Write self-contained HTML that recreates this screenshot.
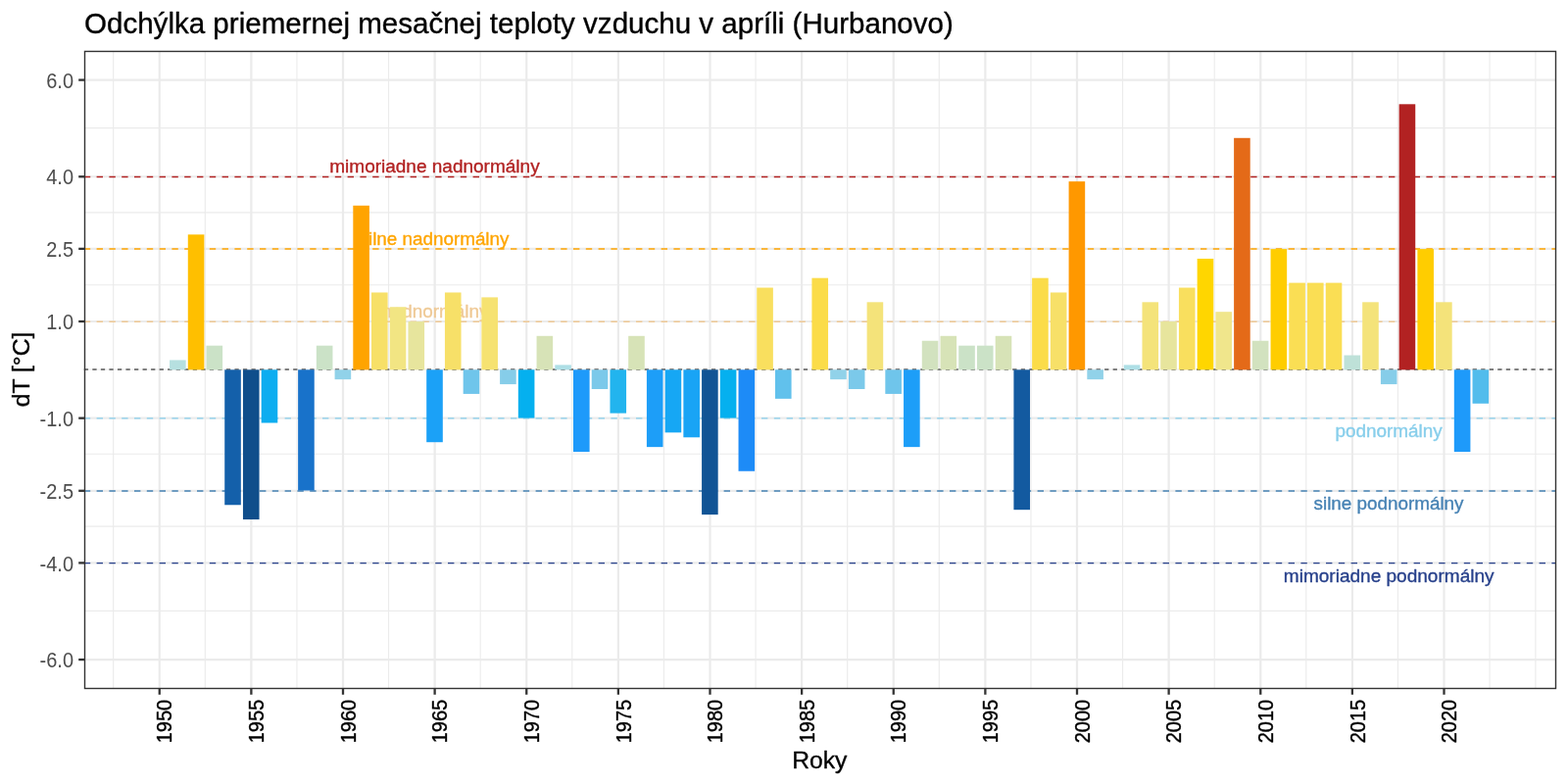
<!DOCTYPE html>
<html lang="sk"><head><meta charset="utf-8"><title>Odchýlka priemernej mesačnej teploty vzduchu v apríli (Hurbanovo)</title>
<style>html,body{margin:0;padding:0;background:#fff;overflow:hidden}svg{display:block}text{font-family:"Liberation Sans", sans-serif;stroke-width:0.35px;stroke-linejoin:round}</style></head><body>
<svg width="1600" height="800" viewBox="0 0 1600 800">
<rect x="0" y="0" width="1600" height="800" fill="#fff"/>
<g stroke="#EBEBEB" fill="none">
<line x1="86.50" x2="1587.50" y1="130.65" y2="130.65" stroke-width="1.1"/>
<line x1="86.50" x2="1587.50" y1="216.87" y2="216.87" stroke-width="1.1"/>
<line x1="86.50" x2="1587.50" y1="290.78" y2="290.78" stroke-width="1.1"/>
<line x1="86.50" x2="1587.50" y1="377.00" y2="377.00" stroke-width="1.1"/>
<line x1="86.50" x2="1587.50" y1="463.22" y2="463.22" stroke-width="1.1"/>
<line x1="86.50" x2="1587.50" y1="537.13" y2="537.13" stroke-width="1.1"/>
<line x1="86.50" x2="1587.50" y1="623.35" y2="623.35" stroke-width="1.1"/>
<line x1="115.69" x2="115.69" y1="52.45" y2="702.50" stroke-width="1.1"/>
<line x1="209.31" x2="209.31" y1="52.45" y2="702.50" stroke-width="1.1"/>
<line x1="302.94" x2="302.94" y1="52.45" y2="702.50" stroke-width="1.1"/>
<line x1="396.56" x2="396.56" y1="52.45" y2="702.50" stroke-width="1.1"/>
<line x1="490.19" x2="490.19" y1="52.45" y2="702.50" stroke-width="1.1"/>
<line x1="583.81" x2="583.81" y1="52.45" y2="702.50" stroke-width="1.1"/>
<line x1="677.44" x2="677.44" y1="52.45" y2="702.50" stroke-width="1.1"/>
<line x1="771.06" x2="771.06" y1="52.45" y2="702.50" stroke-width="1.1"/>
<line x1="864.69" x2="864.69" y1="52.45" y2="702.50" stroke-width="1.1"/>
<line x1="958.31" x2="958.31" y1="52.45" y2="702.50" stroke-width="1.1"/>
<line x1="1051.94" x2="1051.94" y1="52.45" y2="702.50" stroke-width="1.1"/>
<line x1="1145.56" x2="1145.56" y1="52.45" y2="702.50" stroke-width="1.1"/>
<line x1="1239.19" x2="1239.19" y1="52.45" y2="702.50" stroke-width="1.1"/>
<line x1="1332.81" x2="1332.81" y1="52.45" y2="702.50" stroke-width="1.1"/>
<line x1="1426.44" x2="1426.44" y1="52.45" y2="702.50" stroke-width="1.1"/>
<line x1="1520.06" x2="1520.06" y1="52.45" y2="702.50" stroke-width="1.1"/>
<line x1="1566.88" x2="1566.88" y1="52.45" y2="702.50" stroke-width="1.1"/>
<line x1="86.50" x2="1587.50" y1="81.60" y2="81.60" stroke-width="2.2"/>
<line x1="86.50" x2="1587.50" y1="180.27" y2="180.27" stroke-width="2.2"/>
<line x1="86.50" x2="1587.50" y1="253.87" y2="253.87" stroke-width="2.2"/>
<line x1="86.50" x2="1587.50" y1="328.00" y2="328.00" stroke-width="2.2"/>
<line x1="86.50" x2="1587.50" y1="426.67" y2="426.67" stroke-width="2.2"/>
<line x1="86.50" x2="1587.50" y1="500.80" y2="500.80" stroke-width="2.2"/>
<line x1="86.50" x2="1587.50" y1="574.40" y2="574.40" stroke-width="2.2"/>
<line x1="86.50" x2="1587.50" y1="673.07" y2="673.07" stroke-width="2.2"/>
<line x1="162.75" x2="162.75" y1="52.45" y2="702.50" stroke-width="2.2"/>
<line x1="256.38" x2="256.38" y1="52.45" y2="702.50" stroke-width="2.2"/>
<line x1="350.00" x2="350.00" y1="52.45" y2="702.50" stroke-width="2.2"/>
<line x1="443.62" x2="443.62" y1="52.45" y2="702.50" stroke-width="2.2"/>
<line x1="537.25" x2="537.25" y1="52.45" y2="702.50" stroke-width="2.2"/>
<line x1="630.88" x2="630.88" y1="52.45" y2="702.50" stroke-width="2.2"/>
<line x1="724.50" x2="724.50" y1="52.45" y2="702.50" stroke-width="2.2"/>
<line x1="818.12" x2="818.12" y1="52.45" y2="702.50" stroke-width="2.2"/>
<line x1="911.75" x2="911.75" y1="52.45" y2="702.50" stroke-width="2.2"/>
<line x1="1005.38" x2="1005.38" y1="52.45" y2="702.50" stroke-width="2.2"/>
<line x1="1099.00" x2="1099.00" y1="52.45" y2="702.50" stroke-width="2.2"/>
<line x1="1192.62" x2="1192.62" y1="52.45" y2="702.50" stroke-width="2.2"/>
<line x1="1286.25" x2="1286.25" y1="52.45" y2="702.50" stroke-width="2.2"/>
<line x1="1379.88" x2="1379.88" y1="52.45" y2="702.50" stroke-width="2.2"/>
<line x1="1473.50" x2="1473.50" y1="52.45" y2="702.50" stroke-width="2.2"/>
</g>
<line x1="85.80" x2="1587.50" y1="180.47" y2="180.47" stroke="#B22222" stroke-width="1.45" stroke-dasharray="6.4 6.4"/>
<line x1="85.80" x2="1587.50" y1="254.07" y2="254.07" stroke="#FFA500" stroke-width="1.45" stroke-dasharray="6.4 6.4"/>
<line x1="85.80" x2="1587.50" y1="328.20" y2="328.20" stroke="#EFC995" stroke-width="1.45" stroke-dasharray="6.4 6.4"/>
<line x1="85.80" x2="1587.50" y1="426.87" y2="426.87" stroke="#87CEEB" stroke-width="1.45" stroke-dasharray="6.4 6.4"/>
<line x1="85.80" x2="1587.50" y1="501.00" y2="501.00" stroke="#4682B4" stroke-width="1.45" stroke-dasharray="6.4 6.4"/>
<line x1="85.80" x2="1587.50" y1="574.60" y2="574.60" stroke="#27408B" stroke-width="1.45" stroke-dasharray="6.4 6.4"/>
<line x1="85.80" x2="1587.50" y1="377.00" y2="377.00" stroke="#7F7F7F" stroke-width="1.95" stroke-dasharray="4.2677 4.2677"/>
<text x="443.45" y="176.00" font-size="19.00" text-anchor="middle" fill="#B22222" stroke="#B22222" stroke-width="0.55">mimoriadne nadnormálny</text>
<text x="443.00" y="250.00" font-size="18.85" text-anchor="middle" fill="#FFA500" stroke="#FFA500" stroke-width="0.55">silne nadnormálny</text>
<text x="443.80" y="324.00" font-size="18.90" text-anchor="middle" fill="#EFC995" stroke="#EFC995" stroke-width="0.55">nadnormálny</text>
<text x="1417.00" y="446.00" font-size="18.90" text-anchor="middle" fill="#87CEEB" stroke="#87CEEB" stroke-width="0.55">podnormálny</text>
<text x="1417.05" y="520.00" font-size="18.85" text-anchor="middle" fill="#4682B4" stroke="#4682B4" stroke-width="0.55">silne podnormálny</text>
<text x="1417.20" y="594.00" font-size="19.05" text-anchor="middle" fill="#27408B" stroke="#27408B" stroke-width="0.55">mimoriadne podnormálny</text>
<rect x="173.05" y="367.45" width="16.60" height="9.85" fill="#B6E0E0"/>
<rect x="191.78" y="239.34" width="16.60" height="137.96" fill="#FFBF00"/>
<rect x="210.50" y="352.67" width="16.60" height="24.63" fill="#CBE2C7"/>
<rect x="229.23" y="377.30" width="16.60" height="137.96" fill="#1460AA"/>
<rect x="247.95" y="377.30" width="16.60" height="152.74" fill="#104E8B"/>
<rect x="266.68" y="377.30" width="16.60" height="54.20" fill="#0DADF0"/>
<rect x="304.13" y="377.30" width="16.60" height="123.18" fill="#1872CA"/>
<rect x="322.85" y="352.67" width="16.60" height="24.63" fill="#CBE2C7"/>
<rect x="341.58" y="377.30" width="16.60" height="9.85" fill="#91D2E9"/>
<rect x="360.31" y="209.78" width="16.60" height="167.52" fill="#FFA400"/>
<rect x="379.03" y="298.47" width="16.60" height="78.83" fill="#F7E068"/>
<rect x="397.75" y="313.25" width="16.60" height="64.05" fill="#F2E583"/>
<rect x="416.48" y="328.03" width="16.60" height="49.27" fill="#E7E59D"/>
<rect x="435.20" y="377.30" width="16.60" height="73.91" fill="#1BA1F7"/>
<rect x="453.93" y="298.47" width="16.60" height="78.83" fill="#F7E068"/>
<rect x="472.66" y="377.30" width="16.60" height="24.63" fill="#6FC5EB"/>
<rect x="491.38" y="303.39" width="16.60" height="73.91" fill="#F6E271"/>
<rect x="510.11" y="377.30" width="16.60" height="14.78" fill="#86CDE9"/>
<rect x="528.83" y="377.30" width="16.60" height="49.27" fill="#05B0EF"/>
<rect x="547.56" y="342.81" width="16.60" height="34.49" fill="#D7E3B7"/>
<rect x="566.28" y="372.37" width="16.60" height="4.93" fill="#AEDFE6"/>
<rect x="585.00" y="377.30" width="16.60" height="83.76" fill="#1E9AFA"/>
<rect x="603.73" y="377.30" width="16.60" height="19.71" fill="#7BC9EA"/>
<rect x="622.46" y="377.30" width="16.60" height="44.34" fill="#22B4EE"/>
<rect x="641.18" y="342.81" width="16.60" height="34.49" fill="#D7E3B7"/>
<rect x="659.91" y="377.30" width="16.60" height="78.83" fill="#1D9EF8"/>
<rect x="678.63" y="377.30" width="16.60" height="64.05" fill="#16A7F4"/>
<rect x="697.36" y="377.30" width="16.60" height="68.98" fill="#19A4F5"/>
<rect x="716.08" y="377.30" width="16.60" height="147.81" fill="#115495"/>
<rect x="734.81" y="377.30" width="16.60" height="49.27" fill="#05B0EF"/>
<rect x="753.53" y="377.30" width="16.60" height="103.47" fill="#1D8BF7"/>
<rect x="772.26" y="293.54" width="16.60" height="83.76" fill="#F9DF5E"/>
<rect x="790.98" y="377.30" width="16.60" height="29.56" fill="#61C1EC"/>
<rect x="828.43" y="283.69" width="16.60" height="93.61" fill="#FBDC49"/>
<rect x="847.16" y="377.30" width="16.60" height="9.85" fill="#91D2E9"/>
<rect x="865.88" y="377.30" width="16.60" height="19.71" fill="#7BC9EA"/>
<rect x="884.61" y="308.32" width="16.60" height="68.98" fill="#F4E37A"/>
<rect x="903.33" y="377.30" width="16.60" height="24.63" fill="#6FC5EB"/>
<rect x="922.06" y="377.30" width="16.60" height="78.83" fill="#1D9EF8"/>
<rect x="940.78" y="347.74" width="16.60" height="29.56" fill="#D2E2BF"/>
<rect x="959.51" y="342.81" width="16.60" height="34.49" fill="#D7E3B7"/>
<rect x="978.23" y="352.67" width="16.60" height="24.63" fill="#CBE2C7"/>
<rect x="996.96" y="352.67" width="16.60" height="24.63" fill="#CBE2C7"/>
<rect x="1015.68" y="342.81" width="16.60" height="34.49" fill="#D7E3B7"/>
<rect x="1034.41" y="377.30" width="16.60" height="142.88" fill="#135AA0"/>
<rect x="1053.13" y="283.69" width="16.60" height="93.61" fill="#FBDC49"/>
<rect x="1071.86" y="298.47" width="16.60" height="78.83" fill="#F7E068"/>
<rect x="1090.58" y="185.15" width="16.60" height="192.15" fill="#FF9800"/>
<rect x="1109.31" y="377.30" width="16.60" height="9.85" fill="#91D2E9"/>
<rect x="1146.76" y="372.37" width="16.60" height="4.93" fill="#AEDFE6"/>
<rect x="1165.48" y="308.32" width="16.60" height="68.98" fill="#F4E37A"/>
<rect x="1184.21" y="328.03" width="16.60" height="49.27" fill="#E7E59D"/>
<rect x="1202.93" y="293.54" width="16.60" height="83.76" fill="#F9DF5E"/>
<rect x="1221.66" y="263.98" width="16.60" height="113.32" fill="#FFD600"/>
<rect x="1240.38" y="318.18" width="16.60" height="59.12" fill="#F0E68C"/>
<rect x="1259.11" y="140.80" width="16.60" height="236.50" fill="#E46A18"/>
<rect x="1277.83" y="347.74" width="16.60" height="29.56" fill="#D2E2BF"/>
<rect x="1296.56" y="254.12" width="16.60" height="123.18" fill="#FFCD00"/>
<rect x="1315.28" y="288.61" width="16.60" height="88.69" fill="#FADE54"/>
<rect x="1334.01" y="288.61" width="16.60" height="88.69" fill="#FADE54"/>
<rect x="1352.73" y="288.61" width="16.60" height="88.69" fill="#FADE54"/>
<rect x="1371.46" y="362.52" width="16.60" height="14.78" fill="#BEE1D8"/>
<rect x="1390.18" y="308.32" width="16.60" height="68.98" fill="#F4E37A"/>
<rect x="1408.91" y="377.30" width="16.60" height="14.78" fill="#86CDE9"/>
<rect x="1427.63" y="106.31" width="16.60" height="270.99" fill="#B22222"/>
<rect x="1446.36" y="254.12" width="16.60" height="123.18" fill="#FFCD00"/>
<rect x="1465.08" y="308.32" width="16.60" height="68.98" fill="#F4E37A"/>
<rect x="1483.81" y="377.30" width="16.60" height="83.76" fill="#1E9AFA"/>
<rect x="1502.53" y="377.30" width="16.60" height="34.49" fill="#52BCEC"/>
<rect x="86.50" y="52.45" width="1501.00" height="650.05" fill="none" stroke="#333333" stroke-width="1.4"/>
<g stroke="#333333" stroke-width="2.3">
<line x1="80.20" x2="86.50" y1="81.60" y2="81.60"/>
<line x1="80.20" x2="86.50" y1="180.27" y2="180.27"/>
<line x1="80.20" x2="86.50" y1="253.87" y2="253.87"/>
<line x1="80.20" x2="86.50" y1="328.00" y2="328.00"/>
<line x1="80.20" x2="86.50" y1="426.67" y2="426.67"/>
<line x1="80.20" x2="86.50" y1="500.80" y2="500.80"/>
<line x1="80.20" x2="86.50" y1="574.40" y2="574.40"/>
<line x1="80.20" x2="86.50" y1="673.07" y2="673.07"/>
<line x1="162.75" x2="162.75" y1="702.50" y2="708.80"/>
<line x1="256.38" x2="256.38" y1="702.50" y2="708.80"/>
<line x1="350.00" x2="350.00" y1="702.50" y2="708.80"/>
<line x1="443.62" x2="443.62" y1="702.50" y2="708.80"/>
<line x1="537.25" x2="537.25" y1="702.50" y2="708.80"/>
<line x1="630.88" x2="630.88" y1="702.50" y2="708.80"/>
<line x1="724.50" x2="724.50" y1="702.50" y2="708.80"/>
<line x1="818.12" x2="818.12" y1="702.50" y2="708.80"/>
<line x1="911.75" x2="911.75" y1="702.50" y2="708.80"/>
<line x1="1005.38" x2="1005.38" y1="702.50" y2="708.80"/>
<line x1="1099.00" x2="1099.00" y1="702.50" y2="708.80"/>
<line x1="1192.62" x2="1192.62" y1="702.50" y2="708.80"/>
<line x1="1286.25" x2="1286.25" y1="702.50" y2="708.80"/>
<line x1="1379.88" x2="1379.88" y1="702.50" y2="708.80"/>
<line x1="1473.50" x2="1473.50" y1="702.50" y2="708.80"/>
</g>
<g font-size="20" fill="#4D4D4D" text-anchor="end">
<text transform="translate(75.05,89.70) scale(1,1.06)">6.0</text>
<text transform="translate(75.05,188.37) scale(1,1.06)">4.0</text>
<text transform="translate(75.05,261.97) scale(1,1.06)">2.5</text>
<text transform="translate(75.05,336.10) scale(1,1.06)">1.0</text>
<text transform="translate(75.05,434.77) scale(1,1.06)">-1.0</text>
<text transform="translate(75.05,508.90) scale(1,1.06)">-2.5</text>
<text transform="translate(75.05,582.50) scale(1,1.06)">-4.0</text>
<text transform="translate(75.05,681.17) scale(1,1.06)">-6.0</text>
</g>
<g font-size="19.95" fill="#000" stroke="#000" stroke-width="0.15" text-anchor="end">
<text transform="translate(175.45,713.9) rotate(-90) scale(1,1.07)">1950</text>
<text transform="translate(269.07,713.9) rotate(-90) scale(1,1.07)">1955</text>
<text transform="translate(362.70,713.9) rotate(-90) scale(1,1.07)">1960</text>
<text transform="translate(456.32,713.9) rotate(-90) scale(1,1.07)">1965</text>
<text transform="translate(549.95,713.9) rotate(-90) scale(1,1.07)">1970</text>
<text transform="translate(643.58,713.9) rotate(-90) scale(1,1.07)">1975</text>
<text transform="translate(737.20,713.9) rotate(-90) scale(1,1.07)">1980</text>
<text transform="translate(830.83,713.9) rotate(-90) scale(1,1.07)">1985</text>
<text transform="translate(924.45,713.9) rotate(-90) scale(1,1.07)">1990</text>
<text transform="translate(1018.08,713.9) rotate(-90) scale(1,1.07)">1995</text>
<text transform="translate(1111.70,713.9) rotate(-90) scale(1,1.07)">2000</text>
<text transform="translate(1205.33,713.9) rotate(-90) scale(1,1.07)">2005</text>
<text transform="translate(1298.95,713.9) rotate(-90) scale(1,1.07)">2010</text>
<text transform="translate(1392.58,713.9) rotate(-90) scale(1,1.07)">2015</text>
<text transform="translate(1486.20,713.9) rotate(-90) scale(1,1.07)">2020</text>
</g>
<text x="86" y="34.3" font-size="29.56" fill="#000" stroke="#000">Odchýlka priemernej mesačnej teploty vzduchu v apríli (Hurbanovo)</text>
<text x="836.3" y="783.6" font-size="24.7" fill="#000" stroke="#000" text-anchor="middle">Roky</text>
<text transform="translate(30.3,377.0) rotate(-90)" font-size="24.7" fill="#000" stroke="#000" text-anchor="middle">dT [°C]</text>
</svg></body></html>
